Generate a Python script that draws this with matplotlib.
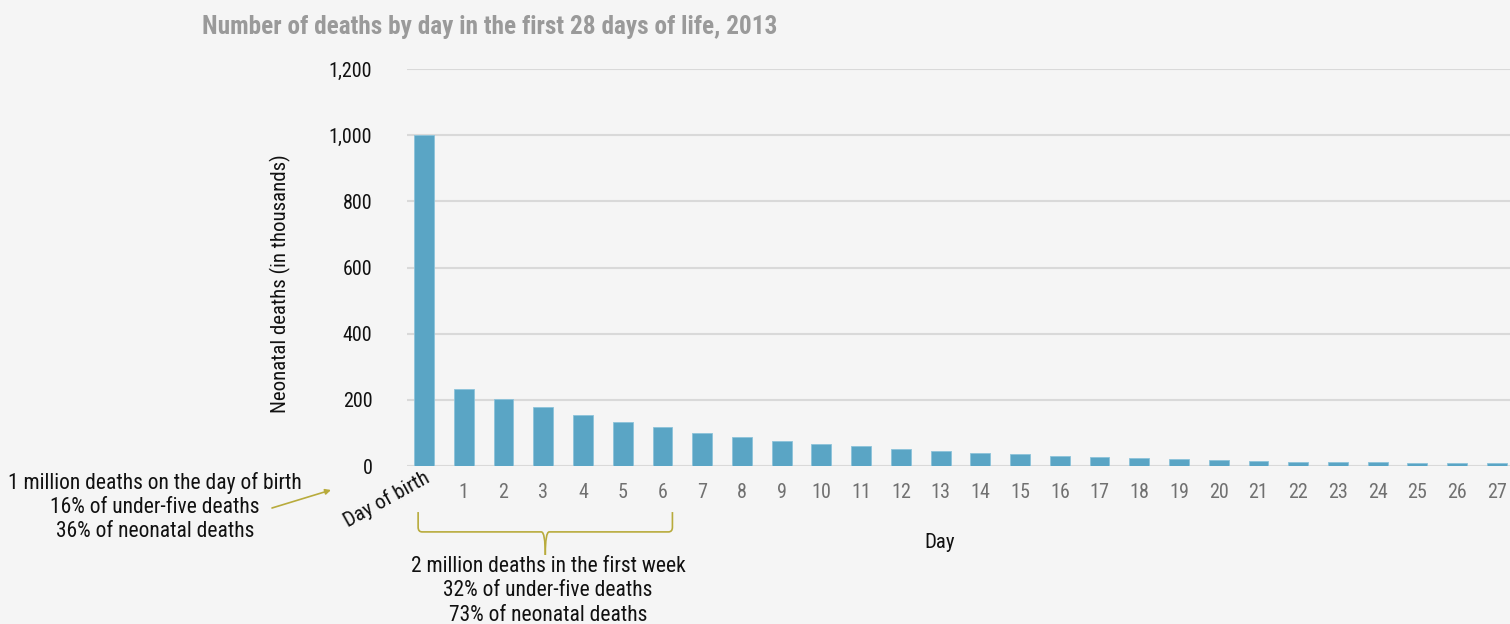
#!/usr/bin/env python3
"""Neonatal deaths by day in the first 28 days of life, 2013."""

import matplotlib
matplotlib.use("Agg")
import matplotlib.pyplot as plt
import matplotlib.transforms as mtransforms
from matplotlib import font_manager
from matplotlib.path import Path
from matplotlib.patches import PathPatch, FancyArrowPatch
import numpy as np

# Data (thousands of deaths)
days = list(range(28))
day_labels = ["Day of birth"] + [str(d) for d in range(1, 28)]
deaths = [1000, 234, 204, 177, 154, 134, 117, 101, 89, 77, 68, 59, 51, 44,
          39, 35, 30, 26, 23, 20, 17, 15, 13, 12, 11, 10, 9, 8]
y_ticks = [0, 200, 400, 600, 800, 1000, 1200]

BG = "#f5f5f5"
BAR = "#5aa5c5"
OLIVE = "#b8ab3c"

# pick a narrow face if there is one
installed = {f.name for f in font_manager.fontManager.ttflist}
narrow = [n for n in ["Roboto Condensed", "Liberation Sans Narrow",
                      "Open Sans Condensed", "Noto Sans Condensed",
                      "DejaVu Sans Condensed"] if n in installed]
plt.rcParams["font.family"] = narrow[:1] + ["DejaVu Sans"]
plt.rcParams["font.stretch"] = "condensed"

fig = plt.figure(figsize=(15.1, 6.24), dpi=100, facecolor=BG)
ax = fig.add_axes([407 / 1510, 1 - 466 / 624, 1 - 407 / 1510, 397 / 624])
ax.set_facecolor(BG)

x = np.arange(len(days))
ax.bar(x, deaths, width=0.5, color=BAR, edgecolor="#8cc3da", linewidth=0.6,
       zorder=3)

ax.set_xlim(-0.43, 27.33)
ax.set_ylim(0, 1200)
ax.set_yticks(y_ticks)
ax.set_yticklabels([f"{v:,}" for v in y_ticks], fontsize=14.5, color="#111111")
ax.yaxis.grid(True, color="#d9d9d9", linewidth=1.5, zorder=0)
ax.tick_params(axis="both", length=0)
ax.tick_params(axis="y", pad=25)
for s in ax.spines.values():
    s.set_visible(False)

ax.set_xticks(x[1:])
ax.set_xticklabels(day_labels[1:], fontsize=14.5, color="#707070")
ax.tick_params(axis="x", pad=12)

# rotated first category label
ax.text(-0.02, -0.005, day_labels[0], transform=mtransforms.blended_transform_factory(
    ax.transData, ax.transAxes), rotation=29, rotation_mode="anchor",
    ha="right", va="top", fontsize=15, color="#111111")

ax.set_ylabel("Neonatal deaths (in thousands)", fontsize=15, color="#111111",
              labelpad=0)
ax.yaxis.set_label_coords(-0.105, 0.46)
fig.text(940 / 1510, 1 - 543 / 624, "Day", fontsize=15, color="#111111",
         ha="center", va="center")

fig.text(202 / 1510, 1 - 27 / 624,
         "Number of deaths by day in the first 28 days of life, 2013",
         fontsize=18.2, fontweight="bold", color="#9a9a9a", ha="left",
         va="center")

# left annotation with arrow
fig.text(155 / 1510, 1 - 507 / 624,
         "1 million deaths on the day of birth\n16% of under-five deaths\n"
         "36% of neonatal deaths", fontsize=15.5, color="#111111",
         ha="center", va="center", linespacing=1.2)
fig.add_artist(FancyArrowPatch(
    (272 / 1510, 1 - 508 / 624), (331 / 1510, 1 - 490 / 624),
    transform=fig.transFigure, arrowstyle="-|>", mutation_scale=8,
    color=OLIVE, linewidth=1.2, shrinkA=0, shrinkB=0))

# brace under the first week
tr = mtransforms.blended_transform_factory(ax.transData, ax.transAxes)
x0, x1 = -0.15, 6.25
xm = (x0 + x1) / 2
yt, yh, yb = -0.116, -0.166, -0.224
r = 0.012
verts = [(x0, yt), (x0, yh + r), (x0, yh), (x0 + 0.1, yh), (xm - 0.1, yh),
         (xm, yh), (xm, yb)]
codes = [Path.MOVETO, Path.LINETO, Path.CURVE3, Path.CURVE3, Path.LINETO,
         Path.CURVE3, Path.CURVE3]
for side in (verts, [(2 * xm - vx, vy) for vx, vy in verts]):
    ax.add_patch(PathPatch(Path(side, codes), transform=tr, fill=False,
                           edgecolor=OLIVE, linewidth=1.2, clip_on=False))

fig.text(548 / 1510, 1 - 591 / 624,
         "2 million deaths in the first week\n32% of under-five deaths\n"
         "73% of neonatal deaths", fontsize=15.5, color="#111111",
         ha="center", va="center", linespacing=1.2)

fig.savefig("out.png", dpi=100, facecolor=BG)
